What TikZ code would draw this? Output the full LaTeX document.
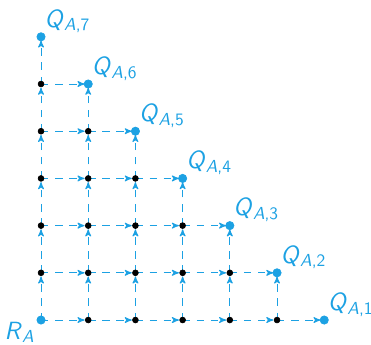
\documentclass[tikz,border=0pt]{standalone}
\usepackage{tkz-euclide}
\usetikzlibrary{arrows}
\definecolor{PathClr}{rgb}{0.11,0.63,0.89}
\newcommand{\sfsub}[2]{\textit{#1}\textsubscript{#2}}
\tikzset{stepline/.style={-stealth',color=PathClr,line width=0.6pt,
  dash pattern=on 4.5pt off 4pt,shorten >=2.2pt},
  ptlabel/.style={color=PathClr,font=\fontsize{15}{18}\selectfont\sffamily,inner sep=2pt}}

\begin{document}
\begin{tikzpicture}
\useasboundingbox (-0.869,-0.508) rectangle (6.991,6.780);
\tkzSetUpPoint[fill=black]

% lattice points below the diagonal
\foreach \i in {0,...,6}{
  \pgfmathtruncatemacro\m{6-\i}
  \foreach \j in {0,...,\m}{
    \tkzDefPoint(\i,\j){P\i\j}
  }
}

% steps to the right and upwards
\foreach \i in {0,...,5}{
  \pgfmathtruncatemacro\lastj{5-\i}
  \pgfmathtruncatemacro\nexti{\i+1}
  \foreach \j in {0,...,\lastj}{
    \draw[stepline] (P\i\j) -- (P\nexti\j);
    \draw[stepline] (P\j\i) -- (P\j\nexti);
  }
}

\foreach \i in {0,...,5}{
  \pgfmathtruncatemacro\lastj{5-\i}
  \foreach \j in {0,...,\lastj}{
    \tkzDrawPoints[size=3.5](P\i\j)
  }
}

\tkzDrawPoints[size=5,color=PathClr,fill=PathClr](P00,P60,P51,P42,P33,P24,P15,P06)

\node[ptlabel,anchor=north east,inner sep=0pt,text depth=0pt,
  xshift=-0.13cm,yshift=-0.03cm] (lR) at (P00) {\sfsub{R}{\itshape A}};
\node[ptlabel,above right] (lQ1) at (P60) {\sfsub{Q}{\itshape A\upshape,1}};
\node[ptlabel,above right] (lQ2) at (P51) {\sfsub{Q}{\itshape A\upshape,2}};
\node[ptlabel,above right] (lQ3) at (P42) {\sfsub{Q}{\itshape A\upshape,3}};
\node[ptlabel,above right] (lQ4) at (P33) {\sfsub{Q}{\itshape A\upshape,4}};
\node[ptlabel,above right] (lQ5) at (P24) {\sfsub{Q}{\itshape A\upshape,5}};
\node[ptlabel,above right] (lQ6) at (P15) {\sfsub{Q}{\itshape A\upshape,6}};
\node[ptlabel,above right] (lQ7) at (P06) {\sfsub{Q}{\itshape A\upshape,7}};

\end{tikzpicture}
\end{document}
